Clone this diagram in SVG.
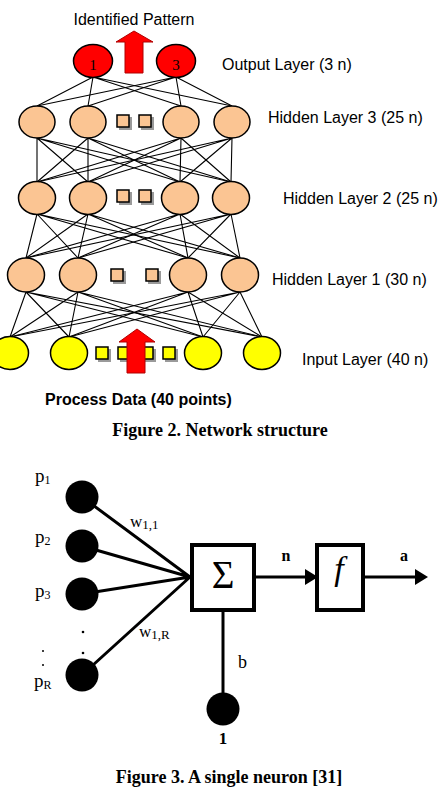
<svg xmlns="http://www.w3.org/2000/svg" width="438" height="790" viewBox="0 0 438 790">
<style>
.s{font-family:"Liberation Sans",Arial,sans-serif;font-size:16px;fill:#000}
.t{font-family:"Liberation Serif","Times New Roman",serif;fill:#000}
.cap{font-family:"Liberation Serif","Times New Roman",serif;font-weight:bold;font-size:18px;fill:#000}
.ln{stroke:#000;stroke-width:1.1;fill:none}
.hid{fill:#FBC593;stroke:#000;stroke-width:1.5}
.inp{fill:#FFFF00;stroke:#000;stroke-width:1.5}
.out{fill:#FF0000;stroke:#000;stroke-width:1.5}
.sh{fill:#9a9a9a}
.arr{fill:#FF0000;stroke:#B00000;stroke-width:1}
.nl{stroke:#000;stroke-width:3;fill:none}
.dot{fill:#000}
</style>
<rect width="438" height="790" fill="#fff"/>

<!-- Figure 2 connectors -->
<g id="connectors-fig2" class="ln">
  <path d="M93,77L37,106M93,77L88,106M93,77L181,106M93,77L232,106"/>
  <path d="M176,77L37,106M176,77L88,106M176,77L181,106M176,77L232,106"/>
  <path d="M37,138L37,182M37,138L88,182M37,138L180,182M37,138L231,182"/>
  <path d="M88,138L37,182M88,138L88,182M88,138L180,182M88,138L231,182"/>
  <path d="M181,138L37,182M181,138L88,182M181,138L180,182M181,138L231,182"/>
  <path d="M232,138L37,182M232,138L88,182M232,138L180,182M232,138L231,182"/>
  <path d="M37,214L26,258M37,214L78,258M37,214L188,258M37,214L240,258"/>
  <path d="M88,214L26,258M88,214L78,258M88,214L188,258M88,214L240,258"/>
  <path d="M180,214L26,258M180,214L78,258M180,214L188,258M180,214L240,258"/>
  <path d="M231,214L26,258M231,214L78,258M231,214L188,258M231,214L240,258"/>
  <path d="M26,292L10,337M26,292L69,337M26,292L203,337M26,292L262,337"/>
  <path d="M78,292L10,337M78,292L69,337M78,292L203,337M78,292L262,337"/>
  <path d="M188,292L10,337M188,292L69,337M188,292L203,337M188,292L262,337"/>
  <path d="M240,292L10,337M240,292L69,337M240,292L203,337M240,292L262,337"/>
</g>

<!-- Output layer -->
<g id="output-layer">
  <ellipse class="out" cx="93" cy="61" rx="19.5" ry="16.5"/>
  <ellipse class="out" cx="176" cy="61" rx="19.5" ry="16.5"/>
  <text class="t" x="93" y="70" font-size="15" text-anchor="middle" fill="#400">1</text>
  <text class="t" x="176" y="70" font-size="15" text-anchor="middle" fill="#400">3</text>
  <polygon class="arr" points="134,31 153,42 143,42 143,73 125,73 125,42 116,42"/>
</g>
<g id="label-identified"><text class="s" x="134" y="25" text-anchor="middle">Identified Pattern</text></g>
<g id="label-output"><text class="s" x="222" y="70">Output Layer (3 n)</text></g>

<!-- Hidden layer 3 -->
<g id="hidden-layer-3">
  <ellipse class="hid" cx="37" cy="122" rx="18" ry="16"/>
  <ellipse class="hid" cx="88" cy="122" rx="18" ry="16"/>
  <ellipse class="hid" cx="181" cy="122" rx="18" ry="16"/>
  <ellipse class="hid" cx="232" cy="122" rx="18" ry="16"/>
  <rect class="sh" x="119" y="117" width="13" height="13"/>
  <rect class="sh" x="141" y="117" width="13" height="13"/>
  <rect class="hid" x="117" y="115" width="12" height="12"/>
  <rect class="hid" x="139" y="115" width="12" height="12"/>
</g>
<g id="label-h3"><text class="s" x="268" y="123">Hidden Layer 3 (25 n)</text></g>

<!-- Hidden layer 2 -->
<g id="hidden-layer-2">
  <ellipse class="hid" cx="37" cy="198" rx="18.5" ry="16.5"/>
  <ellipse class="hid" cx="88" cy="198" rx="18.5" ry="16.5"/>
  <ellipse class="hid" cx="180" cy="198" rx="18.5" ry="16.5"/>
  <ellipse class="hid" cx="231" cy="198" rx="18.5" ry="16.5"/>
  <rect class="sh" x="119" y="192" width="13" height="13"/>
  <rect class="sh" x="141" y="192" width="13" height="13"/>
  <rect class="hid" x="117" y="190" width="12" height="12"/>
  <rect class="hid" x="139" y="190" width="12" height="12"/>
</g>
<g id="label-h2"><text class="s" x="283" y="204">Hidden Layer 2 (25 n)</text></g>

<!-- Hidden layer 1 -->
<g id="hidden-layer-1">
  <ellipse class="hid" cx="26" cy="275" rx="18.5" ry="17"/>
  <ellipse class="hid" cx="78" cy="275" rx="18.5" ry="17"/>
  <ellipse class="hid" cx="188" cy="275" rx="18.5" ry="17"/>
  <ellipse class="hid" cx="240" cy="275" rx="18.5" ry="17"/>
  <rect class="sh" x="113" y="271" width="13" height="13"/>
  <rect class="sh" x="148" y="271" width="13" height="13"/>
  <rect class="hid" x="111" y="269" width="12" height="12"/>
  <rect class="hid" x="146" y="269" width="12" height="12"/>
</g>
<g id="label-h1"><text class="s" x="272" y="285">Hidden Layer 1 (30 n)</text></g>

<!-- Input layer -->
<g id="input-layer">
  <ellipse class="inp" cx="10" cy="353" rx="18.5" ry="16.5"/>
  <ellipse class="inp" cx="69" cy="353" rx="18.5" ry="16.5"/>
  <ellipse class="inp" cx="203" cy="353" rx="18.5" ry="16.5"/>
  <ellipse class="inp" cx="262" cy="353" rx="18.5" ry="16.5"/>
  <rect class="sh" x="98" y="349" width="13" height="13"/>
  <rect class="sh" x="120" y="349" width="13" height="13"/>
  <rect class="sh" x="143" y="349" width="13" height="13"/>
  <rect class="sh" x="165" y="349" width="13" height="13"/>
  <rect class="inp" x="96" y="347" width="12" height="12"/>
  <rect class="inp" x="118" y="347" width="12" height="12"/>
  <rect class="inp" x="141" y="347" width="12" height="12"/>
  <rect class="inp" x="163" y="347" width="12" height="12"/>
  <polygon class="arr" points="137,329 155,342 145,342 145,373 127,373 127,342 119,342"/>
</g>
<g id="label-input"><text class="s" x="302" y="365">Input Layer (40 n)</text></g>
<g id="label-process"><text class="s" x="45" y="405" font-size="15.5" font-weight="bold">Process Data (40 points)</text></g>
<g id="caption-fig2"><text class="cap" x="220" y="436" text-anchor="middle">Figure 2. Network structure</text></g>

<!-- Figure 3 connectors -->
<g id="connectors-fig3" class="nl">
  <path d="M82,497L190,577M82,546L190,577M82,594L190,577M82,675L190,577"/>
  <path d="M223,612L223,700"/>
  <path d="M256,577L306,577"/>
  <polygon points="305,569 318,577 305,585" fill="#000" stroke="none"/>
  <path d="M365,577L416,577"/>
  <polygon points="415,569 428,577 415,585" fill="#000" stroke="none"/>
</g>

<g id="input-p1">
  <circle cx="82" cy="497" r="16.5" fill="#000"/>
  <text class="t" x="35" y="482" font-size="19">p<tspan font-size="12" dy="2">1</tspan></text>
</g>
<g id="input-p2">
  <circle cx="82" cy="546" r="16.5" fill="#000"/>
  <text class="t" x="35" y="543" font-size="19">p<tspan font-size="12" dy="2">2</tspan></text>
</g>
<g id="input-p3">
  <circle cx="82" cy="594" r="16.5" fill="#000"/>
  <text class="t" x="35" y="597" font-size="19">p<tspan font-size="12" dy="2">3</tspan></text>
</g>
<g id="input-pR">
  <circle cx="82" cy="675" r="16.5" fill="#000"/>
  <text class="t" x="34" y="687" font-size="19">p<tspan font-size="12" dy="2">R</tspan></text>
</g>
<g id="ellipsis-dots">
  <circle class="dot" cx="83" cy="632" r="1.3"/>
  <circle class="dot" cx="83" cy="653" r="1.3"/>
  <circle class="dot" cx="43" cy="651" r="1"/>
  <circle class="dot" cx="43" cy="665" r="1"/>
</g>
<g id="weight-labels">
  <text class="t" x="130" y="527" font-size="17">w<tspan font-size="13" dy="2">1,1</tspan></text>
  <text class="t" x="139" y="637" font-size="17">w<tspan font-size="13" dy="2">1,R</tspan></text>
</g>

<g id="sum-node">
  <rect x="192" y="545" width="62" height="65" fill="#fff" stroke="#000" stroke-width="4"/>
  <text class="t" x="223" y="588" font-size="39" text-anchor="middle">Σ</text>
</g>
<g id="transfer-node">
  <rect x="317" y="545" width="46" height="65" fill="#fff" stroke="#000" stroke-width="4"/>
  <text class="t" x="339" y="580" font-size="34" font-style="italic" text-anchor="middle">f</text>
</g>
<g id="labels-n-a">
  <text class="t" x="286" y="561" font-size="16" font-weight="bold" text-anchor="middle">n</text>
  <text class="t" x="404" y="561" font-size="16" font-weight="bold" text-anchor="middle">a</text>
</g>
<g id="bias-node">
  <circle cx="223" cy="709" r="16.5" fill="#000"/>
  <text class="t" x="238" y="668" font-size="18">b</text>
  <text class="t" x="223" y="744" font-size="17" font-weight="bold" text-anchor="middle">1</text>
</g>
<g id="caption-fig3"><text class="cap" x="229" y="783" text-anchor="middle">Figure 3. A single neuron [31]</text></g>
</svg>
